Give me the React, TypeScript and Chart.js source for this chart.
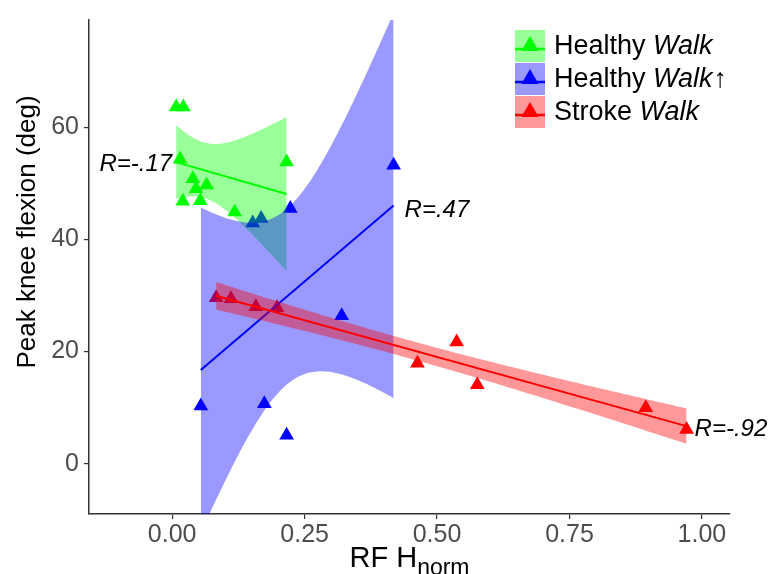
import React, { useEffect, useRef } from 'react';
import { Chart, registerables } from 'chart.js';

Chart.register(...registerables);

// ---- data ----
const healthyX = [0.0075, 0.021, 0.015, 0.02, 0.039, 0.045, 0.053, 0.065, 0.118, 0.216];
const healthyY = [63.6, 63.6, 54.3, 46.8, 50.8, 49.0, 46.9, 49.7, 44.9, 53.8];
const healthyUpX = [0.054, 0.152, 0.168, 0.174, 0.216, 0.223, 0.32, 0.418];
const healthyUpY = [10.3, 42.9, 43.7, 10.7, 5.1, 45.5, 26.4, 53.2];
const strokeX = [0.083, 0.111, 0.158, 0.198, 0.463, 0.537, 0.576, 0.894, 0.971];
const strokeY = [29.6, 29.4, 28.0, 27.8, 17.9, 21.7, 14.1, 10.0, 6.1];

const groupPrefix = ['Healthy ', 'Healthy ', 'Stroke '];
const groupItalic = ['Walk', 'Walk', 'Walk'];
const groupSuffix = ['', '\u2191', ''];
const rLabels = ['R=-.17', 'R=.47', 'R=-.92'];
const xTicks = [0, 0.25, 0.5, 0.75, 1];
const yTicks = [0, 20, 40, 60];
const xRange = [-0.157, 1.053];
const yRange = [-8.95, 79.1];

const COLORS = ['#00FF00', '#0000FF', '#FF0000'];
const FILLS = ['rgba(0,255,0,0.4)', 'rgba(0,0,255,0.4)', 'rgba(255,0,0,0.4)'];
const T975: Record<number, number> = { 5: 2.571, 6: 2.447, 7: 2.365, 8: 2.306, 9: 2.262 };
const FONT = '"Liberation Sans", Arial, sans-serif';

type Pt = { x: number; y: number };

// linear model fit with 95% confidence band (as geom_smooth(method = "lm"))
function lmFit(xs: number[], ys: number[]) {
  const n = xs.length;
  const mx = xs.reduce((a, b) => a + b, 0) / n;
  const my = ys.reduce((a, b) => a + b, 0) / n;
  let sxx = 0, sxy = 0;
  for (let i = 0; i < n; i++) {
    sxx += (xs[i] - mx) ** 2;
    sxy += (xs[i] - mx) * (ys[i] - my);
  }
  const b = sxy / sxx;
  const a = my - b * mx;
  let ssr = 0;
  for (let i = 0; i < n; i++) ssr += (ys[i] - (a + b * xs[i])) ** 2;
  const s = Math.sqrt(ssr / (n - 2));
  const t = T975[n - 2];
  const x0 = Math.min(...xs);
  const x1 = Math.max(...xs);
  const steps = 120;
  const upper: Pt[] = [];
  const lower: Pt[] = [];
  for (let k = 0; k <= steps; k++) {
    const x = x0 + ((x1 - x0) * k) / steps;
    const yh = a + b * x;
    const se = s * Math.sqrt(1 / n + (x - mx) ** 2 / sxx);
    upper.push({ x, y: yh + t * se });
    lower.push({ x, y: yh - t * se });
  }
  const line: Pt[] = [
    { x: x0, y: a + b * x0 },
    { x: x1, y: a + b * x1 },
  ];
  return { upper, lower, line };
}

const groups = [
  { xs: healthyX, ys: healthyY },
  { xs: healthyUpX, ys: healthyUpY },
  { xs: strokeX, ys: strokeY },
];

export default function App() {
  const ref = useRef<HTMLCanvasElement | null>(null);

  useEffect(() => {
    document.body.style.margin = '0';
    const canvas = ref.current;
    if (!canvas) return;

    const fits = groups.map((g) => lmFit(g.xs, g.ys));

    const datasets: any[] = [];
    groups.forEach((g, i) => {
      datasets.push({
        type: 'scatter',
        data: g.xs.map((x, j) => ({ x, y: g.ys[j] })),
        pointStyle: 'triangle',
        pointRadius: 8.5,
        pointBackgroundColor: COLORS[i],
        pointBorderColor: COLORS[i],
        pointBorderWidth: 0,
        showLine: false,
        order: 100,
      });
    });
    fits.forEach((f, i) => {
      const base = 60 - i * 10;
      datasets.push({
        type: 'line',
        data: f.upper,
        borderWidth: 0,
        pointRadius: 0,
        backgroundColor: FILLS[i],
        fill: '+1',
        tension: 0,
        order: base,
      });
      datasets.push({
        type: 'line',
        data: f.lower,
        borderWidth: 0,
        pointRadius: 0,
        fill: false,
        tension: 0,
        order: base,
      });
      datasets.push({
        type: 'line',
        data: f.line,
        borderColor: COLORS[i],
        borderWidth: 2,
        pointRadius: 0,
        fill: false,
        tension: 0,
        order: base - 5,
      });
    });

    const annot = {
      id: 'annot',
      afterDraw(chart: any) {
        const ctx = chart.ctx as CanvasRenderingContext2D;
        const xs = chart.scales.x;
        const ys = chart.scales.y;
        ctx.save();
        ctx.fillStyle = '#000';

        // y title
        ctx.save();
        ctx.translate(35, 232);
        ctx.rotate(-Math.PI / 2);
        ctx.font = `26px ${FONT}`;
        ctx.textAlign = 'center';
        ctx.textBaseline = 'alphabetic';
        ctx.fillText('Peak knee flexion (deg)', 0, 0);
        ctx.restore();

        // x title with subscript
        const main = 'RF H';
        const sub = 'norm';
        ctx.textBaseline = 'alphabetic';
        ctx.textAlign = 'left';
        ctx.font = `29px ${FONT}`;
        const w1 = ctx.measureText(main).width;
        ctx.font = `23px ${FONT}`;
        const w2 = ctx.measureText(sub).width;
        const cx = (chart.chartArea.left + chart.chartArea.right) / 2;
        const sx = cx - (w1 + w2) / 2;
        ctx.font = `29px ${FONT}`;
        ctx.fillText(main, sx, 567);
        ctx.font = `23px ${FONT}`;
        ctx.fillText(sub, sx + w1, 575);

        // R labels at line ends
        ctx.font = `italic 24px ${FONT}`;
        fits.forEach((f, i) => {
          if (i === 0) {
            const p = f.line[0];
            ctx.textAlign = 'right';
            ctx.fillText(rLabels[i], xs.getPixelForValue(p.x) - 4, ys.getPixelForValue(p.y) + 9);
          } else {
            const p = f.line[1];
            ctx.textAlign = 'left';
            const dx = i === 1 ? 11 : 8;
            const dy = i === 1 ? 12 : 10;
            ctx.fillText(rLabels[i], xs.getPixelForValue(p.x) + dx, ys.getPixelForValue(p.y) + dy);
          }
        });

        // legend
        const bx = 515;
        const bw = 30;
        const bh = 32;
        for (let i = 0; i < 3; i++) {
          const top = 30 + i * 33;
          const cy = top + bh / 2;
          ctx.fillStyle = FILLS[i];
          ctx.fillRect(bx, top, bw, bh);
          ctx.strokeStyle = COLORS[i];
          ctx.lineWidth = 2.5;
          ctx.beginPath();
          ctx.moveTo(bx, cy + 3);
          ctx.lineTo(bx + bw, cy + 3);
          ctx.stroke();
          ctx.fillStyle = COLORS[i];
          const r = 10;
          ctx.beginPath();
          ctx.moveTo(bx + bw / 2, cy - r);
          ctx.lineTo(bx + bw / 2 + 0.866 * r, cy + 0.5 * r);
          ctx.lineTo(bx + bw / 2 - 0.866 * r, cy + 0.5 * r);
          ctx.closePath();
          ctx.fill();

          ctx.fillStyle = '#000';
          ctx.textAlign = 'left';
          let tx = 554;
          const ty = cy + 8;
          ctx.font = `27px ${FONT}`;
          ctx.fillText(groupPrefix[i], tx, ty);
          tx += ctx.measureText(groupPrefix[i]).width;
          ctx.font = `italic 27px ${FONT}`;
          ctx.fillText(groupItalic[i], tx, ty);
          tx += ctx.measureText(groupItalic[i]).width;
          if (groupSuffix[i]) {
            ctx.font = `27px ${FONT}`;
            ctx.fillText(groupSuffix[i], tx + 1, ty);
          }
        }
        ctx.restore();
      },
    };

    const chart = new Chart(canvas, {
      type: 'scatter',
      data: { datasets },
      options: {
        animation: false,
        responsive: false,
        maintainAspectRatio: false,
        events: [],
        layout: { padding: { top: 12, right: 40, left: 0, bottom: 0 } },
        plugins: {
          legend: { display: false },
          tooltip: { enabled: false },
        },
        scales: {
          x: {
            type: 'linear',
            min: xRange[0],
            max: xRange[1],
            afterBuildTicks: (s: any) => {
              s.ticks = xTicks.map((v) => ({ value: v }));
            },
            afterFit: (s: any) => {
              s.height = 60;
            },
            grid: { drawOnChartArea: false, drawTicks: true, tickLength: 5, color: '#333333', lineWidth: 1.2 },
            border: { display: true, color: '#333333', width: 1.5 },
            ticks: {
              color: '#4d4d4d',
              font: { family: FONT, size: 25 },
              padding: 1,
              maxRotation: 0,
              autoSkip: false,
              callback: (v: any) => Number(v).toFixed(2),
            },
          },
          y: {
            type: 'linear',
            min: yRange[0],
            max: yRange[1],
            afterBuildTicks: (s: any) => {
              s.ticks = yTicks.map((v) => ({ value: v }));
            },
            afterFit: (s: any) => {
              s.width = 89;
            },
            grid: { drawOnChartArea: false, drawTicks: true, tickLength: 5, color: '#333333', lineWidth: 1.2 },
            border: { display: true, color: '#333333', width: 1.5 },
            ticks: {
              color: '#4d4d4d',
              font: { family: FONT, size: 25 },
              padding: 5,
              autoSkip: false,
              callback: (v: any) => String(v),
            },
          },
        },
      } as any,
      plugins: [annot],
    });

    return () => chart.destroy();
  }, []);

  return (
    <div style={{ position: 'fixed', left: 0, top: 0, width: 770, height: 574 }}>
      <canvas ref={ref} width={770} height={574} />
    </div>
  );
}
